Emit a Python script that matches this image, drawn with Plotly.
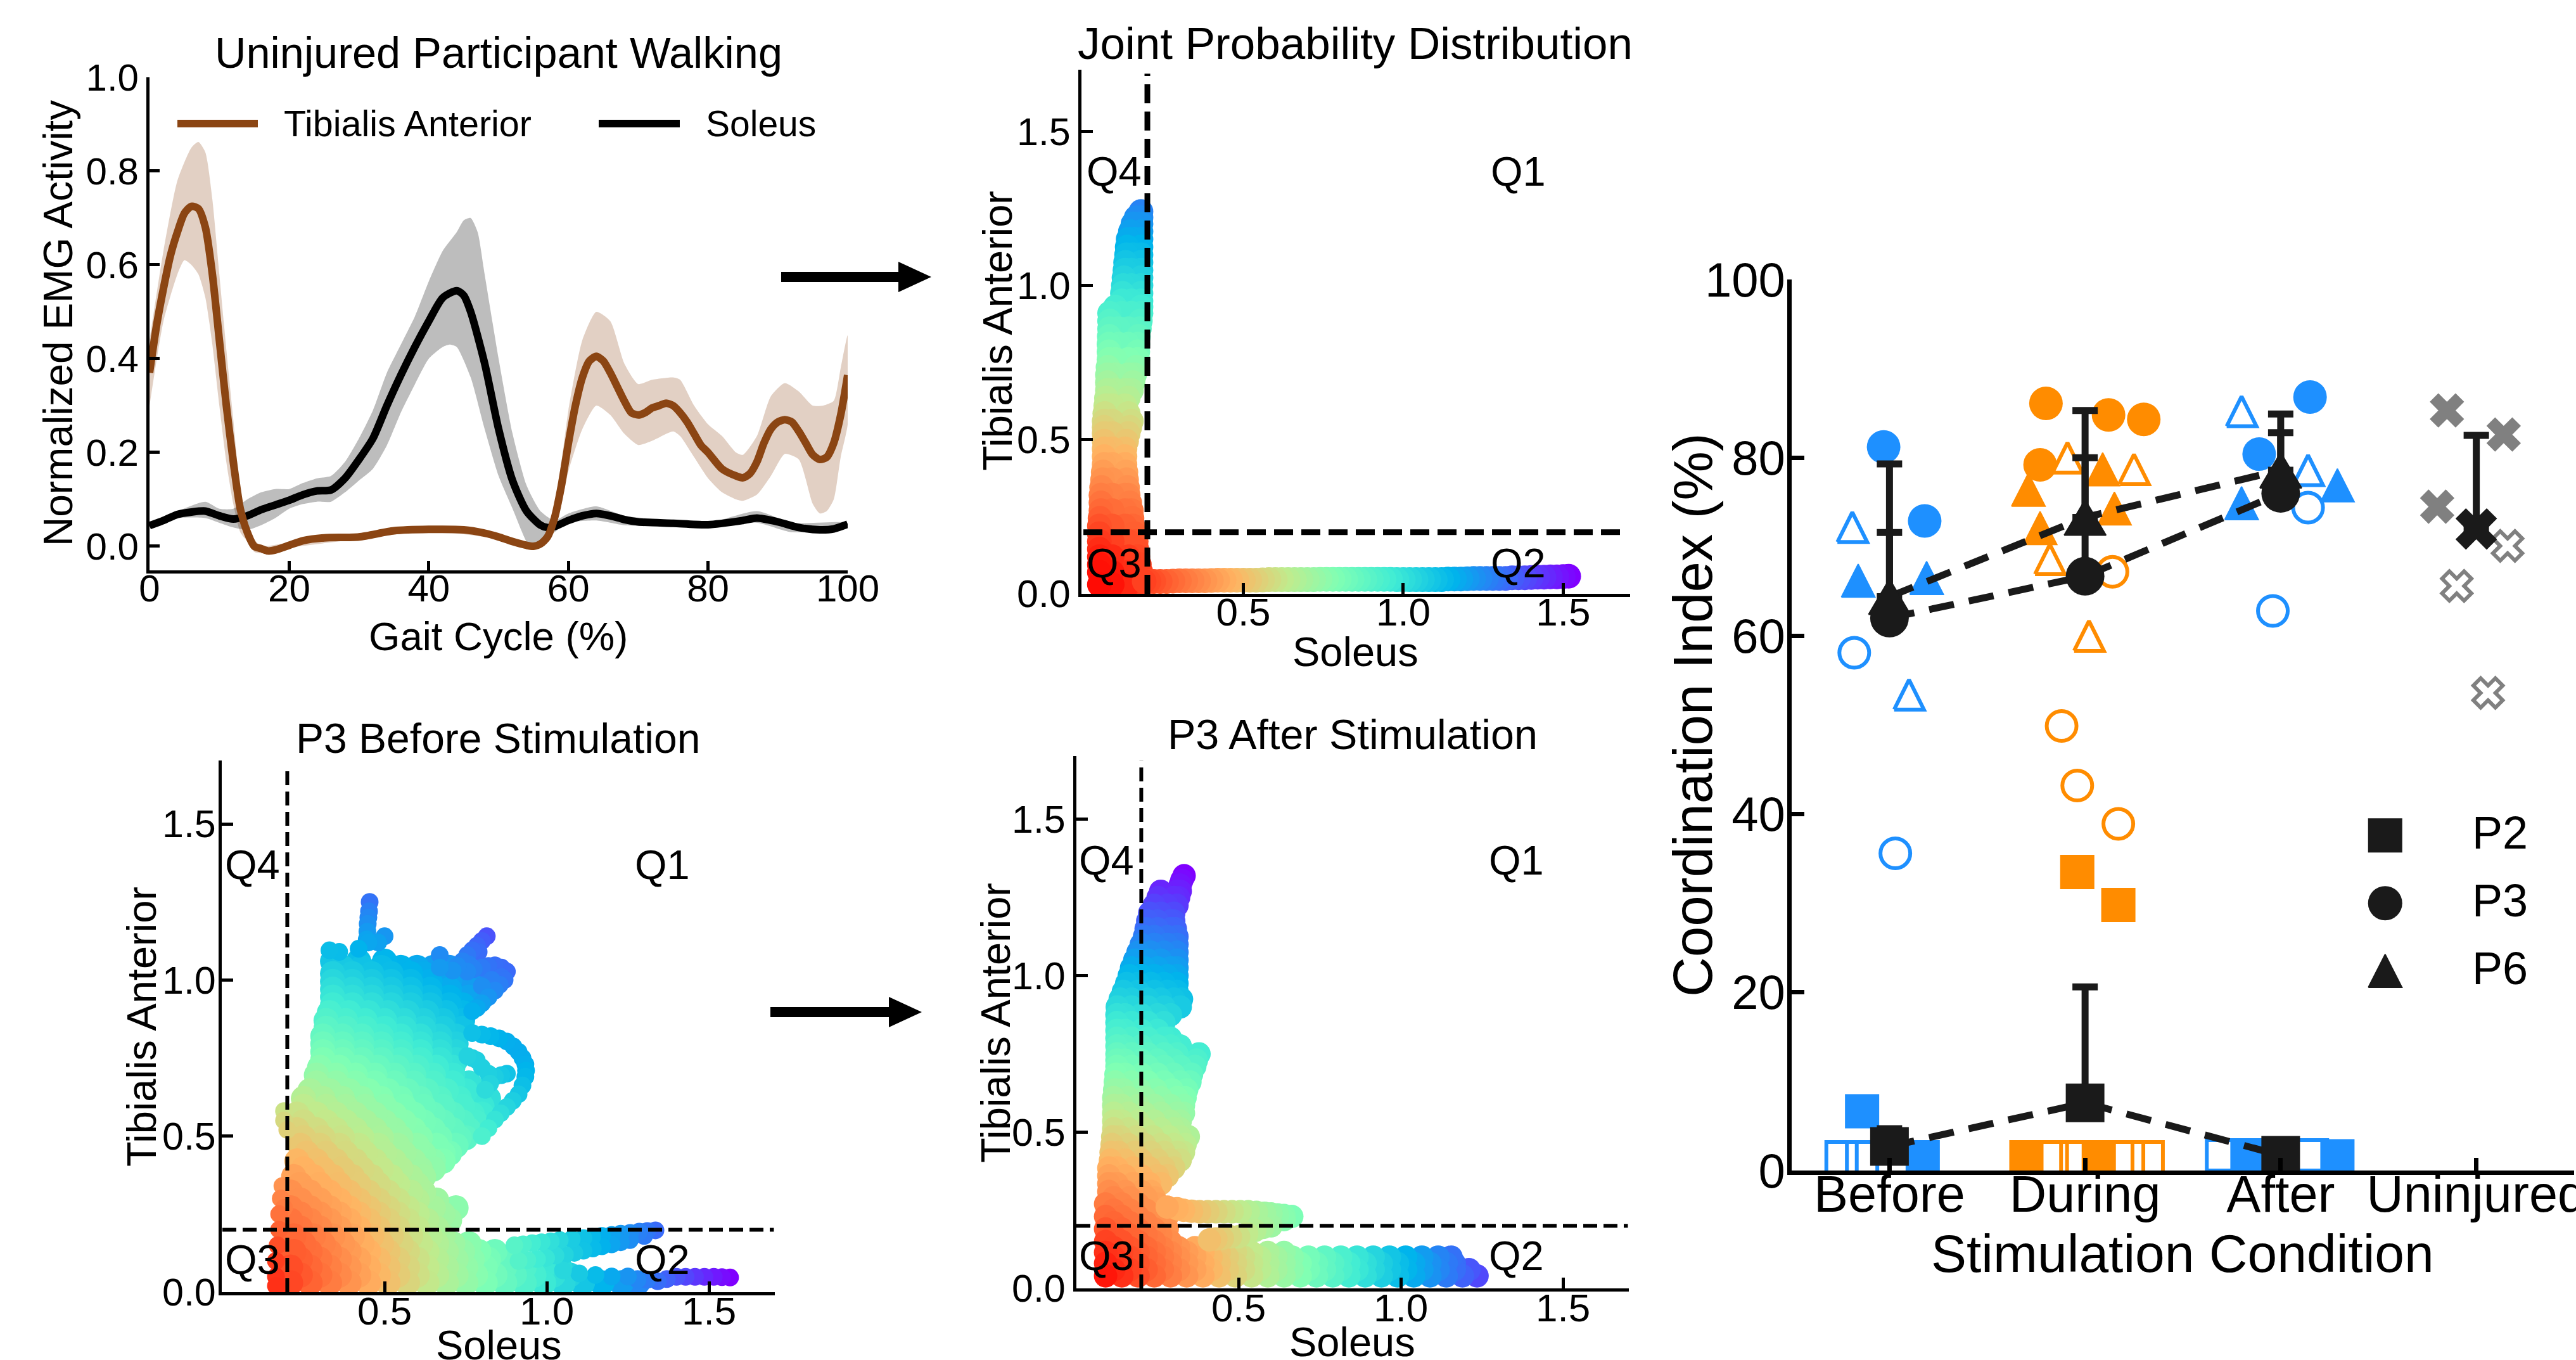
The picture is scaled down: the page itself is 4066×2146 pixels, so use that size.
import numpy as np
import plotly.graph_objects as go

W, H = 4066, 2146
FONT = "Liberation Sans"

# ---------- Panel A: EMG ----------
TA_X = [0,1,2,3,4,5,6,7,8,9,10,11,12,13,14,15,16,17,18,20,22,25,30,35,40,45,48,50,52,54,55,56,57,58,59,60,61,62,63,64,65,66,67,68,69,70,71,72,73,74,75,76,77,78,79,80,82,84,85,86,87,88,89,90,91,92,93,94,95,96,97,98,99,100]
TA_Y = [.37,.47,.55,.62,.67,.71,.725,.72,.68,.58,.44,.30,.18,.08,.03,.0,-.005,-.01,-.008,.002,.012,.018,.02,.033,.036,.035,.028,.02,.01,.002,.0,.005,.02,.06,.13,.22,.30,.36,.395,.405,.395,.37,.34,.31,.285,.28,.285,.295,.30,.305,.30,.285,.265,.24,.215,.20,.165,.15,.146,.155,.18,.22,.25,.265,.27,.265,.245,.22,.195,.185,.19,.22,.28,.365]
TA_UP_X = [0,2,4,6,7,8,9,10,11,12,13,14,15,16,20,30,40,50,55,57,58,59,60,62,64,66,68,70,72,75,76,78,80,82,84,85,87,89,91,93,95,96.5,98,99,100]
TA_UP_Y = [.44,.63,.78,.85,.862,.84,.74,.58,.42,.27,.12,.05,.015,.0,.008,.025,.04,.025,.006,.03,.09,.18,.29,.44,.50,.48,.39,.346,.355,.36,.355,.30,.26,.235,.20,.195,.235,.32,.348,.33,.30,.30,.31,.38,.45]
TA_LO_X = [0,2,4,5,6,7,8,9,10,11,12,13,14,15,16,20,30,40,50,55,57,58,59,60,62,64,66,68,70,72,75,76,78,80,82,84,85,87,89,91,93,95,96,97,98,99,100]
TA_LO_Y = [.30,.48,.58,.61,.60,.58,.53,.43,.30,.18,.09,.03,.01,-.012,-.015,-.003,.015,.032,.015,-.006,.01,.04,.09,.16,.25,.30,.28,.24,.216,.225,.245,.235,.19,.145,.115,.10,.097,.11,.15,.197,.185,.09,.07,.075,.10,.19,.26]
SOL_X = [0,2,4,6,8,10,12,14,16,18,20,22,24,26,28,30,32,34,36,38,40,42,44,45,46,48,50,52,54,56,57,58,60,62,64,66,68,70,75,80,85,87,90,93,96,98,100]
SOL_Y = [.044,.055,.068,.073,.075,.065,.058,.065,.078,.088,.098,.11,.118,.12,.145,.185,.23,.30,.365,.425,.48,.53,.545,.535,.50,.39,.25,.14,.075,.045,.04,.042,.055,.065,.07,.065,.057,.052,.049,.046,.055,.06,.052,.04,.035,.037,.047]
SOL_UP_X = [0,4,8,10,12,14,16,18,20,22,24,26,28,30,32,34,36,38,40,42,44,45,46,47,48,50,52,54,56,58,60,64,68,75,80,87,92,100]
SOL_UP_Y = [.05,.075,.095,.08,.08,.10,.115,.122,.122,.135,.145,.15,.18,.23,.29,.37,.43,.49,.565,.63,.67,.695,.70,.67,.58,.40,.24,.13,.075,.055,.07,.085,.065,.055,.05,.075,.05,.05]
SOL_LO_X = [0,4,8,10,12,14,16,18,20,22,24,26,28,30,32,34,36,38,40,42,43,44,46,48,50,52,54,55,56,58,60,64,68,75,80,87,92,100]
SOL_LO_Y = [.04,.06,.06,.05,.04,.035,.045,.06,.08,.09,.095,.095,.115,.14,.165,.215,.285,.345,.40,.425,.43,.425,.36,.25,.15,.08,.01,-.005,.01,.03,.05,.055,.045,.042,.04,.05,.03,.04]

# ---------- Panel B: joint distribution (Soleus, Tibialis Anterior) ----------
B_ROW_Y = [.03,.07,.12,.17,.22,.27,.32,.37,.42,.47,.52,.56,.61,.66,.71,.76,.81,.86,.91,.95,1.00,1.05,1.10,1.15,1.20,1.24,
           .095,.145,.195,.245,.295,.345,.395,.445,.495,.54,.585,.635,.685,.735,.785,.835,.885,.93,.975,1.025,1.075,1.125,1.175,1.22]
B_ROW_X = [[.05,.09,.14,.18],[.05,.09,.14,.18],[.05,.09,.14,.17],[.05,.09,.14,.165],[.05,.09,.13,.155],[.055,.09,.13,.15],[.055,.09,.13,.14],
           [.06,.09,.135],[.065,.09,.13],[.065,.09,.13],[.065,.09,.14],[.065,.09,.15],[.07,.09,.13],[.075,.10,.13,.15],[.075,.10,.14,.16],
           [.08,.10,.14,.17],[.08,.11,.14,.17],[.082,.11,.14,.175],[.082,.12,.15,.18],[.12,.15,.18],[.125,.15,.18],[.13,.15,.18],[.135,.155,.18],[.14,.16,.18],[.155,.18],[.18],
           [.05,.175],[.05,.167],[.05,.16],[.052,.152],[.055,.145],[.057,.138],[.062,.133],[.065,.13],[.065,.135],[.065,.145],[.067,.14],[.072,.14],
           [.075,.155],[.077,.165],[.08,.17],[.081,.172],[.082,.178],[.10,.18],[.122,.18],[.127,.18],[.132,.18],[.137,.18],[.147,.18],[.165,.18]]
B_ARM_X = [.19,.205,.22,.24,.26,.28,.30,.32,.34,.36,.38,.40,.42,.44,.46,.48,.50,.52,.54,.56,.58,.60,.62,.64,.66,.68,.70,.72,.74,.76,.78,.80,.82,.84,.86,.88,.90,.92,.94,.96,.98,1.00,1.02,1.04,1.06,1.08,1.10,1.12,1.14,1.16,1.18,1.20,1.22,1.24,1.26,1.28,1.30,1.32,1.34,1.36,1.38,1.40,1.42,1.44,1.46,1.48,1.50,1.517]
B_ARM_Y = [.04,.04,.04,.04,.04,.041,.042,.042,.042,.042,.042,.043,.044,.044,.044,.044,.044,.044,.044,.045,.046,.046,.046,.046,.046,.046,.046,.046,.047,.047,.047,.047,.047,.047,.047,.047,.047,.047,.047,.047,.046,.046,.046,.046,.046,.046,.046,.046,.048,.048,.048,.049,.05,.05,.05,.05,.05,.05,.052,.052,.052,.053,.054,.054,.055,.055,.056,.057]

# ---------- Panel C: P3 before ----------
C_ROW_Y = [.03,.08,.13,.18,.23,.27,.32,.37,.42,.47,.52,.57,.62,.67,.72,.77,.82,.87,.92,.97,1.02,1.06,
           .055,.105,.155,.205,.25,.295,.345,.395,.445,.495,.545,.595,.645,.695,.745,.795,.845,.895,.945,.995,1.04]
C_ROW_X = [[.21,.27,.33,.39,.45,.51,.57,.63,.69,.75,.81,.87,.93,.99,1.05,1.11,1.17,1.23,1.28],
           [.21,.27,.33,.39,.45,.51,.57,.63,.69,.75,.81,.87,.93,.99,1.04],
           [.22,.27,.33,.39,.45,.51,.57,.63,.69,.74,.79,.84],
           [.22,.28,.34,.40,.46,.52,.58,.64,.68],
           [.21,.27,.33,.39,.45,.51,.57,.63,.70],
           [.21,.27,.33,.39,.45,.51,.57,.65,.72],
           [.21,.27,.33,.39,.45,.51,.58,.62],
           [.22,.28,.34,.40,.46,.52,.58,.62],
           [.23,.29,.35,.41,.47,.53,.59,.65,.68],
           [.24,.30,.36,.42,.48,.54,.60,.66,.72],
           [.23,.29,.35,.41,.47,.53,.59,.65,.71,.76],
           [.23,.29,.35,.41,.47,.53,.59,.65,.71,.77,.80],
           [.25,.31,.37,.43,.49,.55,.61,.67,.73,.79,.82],
           [.29,.35,.41,.47,.53,.59,.65,.71,.76],
           [.30,.36,.42,.48,.54,.60,.66,.71],
           [.31,.37,.43,.49,.55,.61,.67,.72],
           [.31,.37,.43,.49,.55,.61,.67,.72],
           [.32,.38,.44,.50,.56,.62,.68,.74],
           [.34,.40,.46,.52,.58,.64,.70,.74],
           [.34,.40,.46,.52,.58,.64,.70,.76,.82],
           [.34,.40,.46,.52,.58,.62,.68],
           [.34,.42,.50],
           [.24,.30,.36,.42,.48,.54,.60,.66,.72,.78,.84,.90,.96,1.02,1.07],
           [.24,.30,.36,.42,.48,.54,.60,.66,.72,.77,.82,.87],
           [.25,.31,.37,.43,.49,.55,.61,.66,.71,.76],
           [.24,.30,.36,.42,.48,.54,.60,.66],
           [.24,.30,.36,.42,.48,.54,.60,.68],
           [.24,.30,.36,.42,.48,.54,.60,.66],
           [.24,.30,.36,.42,.48,.54,.60],
           [.25,.31,.37,.43,.49,.55,.61,.65],
           [.26,.32,.38,.44,.50,.56,.62,.68,.70],
           [.25,.31,.37,.43,.49,.55,.61,.67,.73,.75],
           [.25,.32,.38,.44,.50,.56,.62,.68,.74,.78],
           [.25,.32,.38,.44,.50,.56,.62,.68,.74,.80],
           [.27,.33,.39,.45,.51,.57,.63,.69,.75,.80],
           [.29,.35,.41,.47,.53,.59,.65,.71],
           [.31,.37,.43,.49,.55,.61,.67,.72],
           [.31,.37,.43,.49,.55,.61,.67,.72],
           [.32,.38,.44,.50,.56,.62,.68,.74],
           [.33,.39,.45,.51,.57,.63,.69,.74],
           [.34,.40,.46,.52,.58,.64,.70,.76,.80],
           [.34,.40,.46,.52,.58,.64,.70,.76,.81],
           [.37,.43,.49,.55,.60,.65,.70]]
C_ARM_X = [.454,.45,.447,.80,.77,.74,.71,.877,.84,.80,.755,.87,.84,.80,.77,.67,.67,.50,.48,.45,.42,.33,.36,
           .77,.827,.877,.913,.934,.934,.913,.877,.84,.80,.877,.84,.81,.784,.755,.82,
           1.335,1.285,1.228,1.17,1.113,1.04,.984,.927,1.256,1.2,1.142,1.085,1.027,.97,.913,
           1.565,1.515,1.457,1.40,1.342,.19,.18,.19,.175,
           .452,.448,.445,.785,.755,.725,.815,.79,.76,.86,.82,.775,.855,.82,.785,.86,.83,.80,
           .80,.853,.897,.925,.936,.925,.895,.858,.82,.86,.825,.77,.80,
           1.31,1.257,1.2,1.14,1.077,1.012,.955,.90,1.3,1.228,1.17,1.113,1.056,.998,.94,
           1.54,1.486,1.428,1.37,1.31,1.28,1.25,1.2,1.15,1.1,1.05,.19,.20,.185,.175,.175,.17,.165,.165,.165]
C_ARM_Y = [1.25,1.2,1.155,1.125,1.095,1.06,1.03,1.027,1.047,1.04,1.027,1.0,.966,.925,.90,1.08,1.04,1.14,1.12,1.12,1.10,1.095,1.09,
           .83,.82,.803,.77,.73,.69,.634,.593,.553,.50,.70,.69,.648,.743,.756,.70,
           .198,.194,.187,.18,.173,.167,.16,.153,.167,.153,.14,.126,.117,.106,.10,
           .047,.049,.049,.049,.035,.58,.30,.27,.02,
           1.22,1.18,1.13,1.11,1.08,1.045,1.14,1.09,1.05,1.04,1.045,1.035,.985,.945,.91,1.01,1.0,.98,
           .825,.813,.787,.75,.71,.662,.613,.573,.525,.695,.668,.75,.72,
           .196,.19,.183,.177,.17,.163,.157,.15,.18,.16,.147,.133,.12,.11,.103,
           .048,.049,.049,.042,.04,.04,.05,.05,.055,.06,.07,.55,.52,.34,.25,.20,.15,.10,.05,.02]

# ---------- Panel D: P3 after ----------
D_ROW_Y = [.04,.08,.115,.15,.19,.23,.27,.31,.36,.41,.46,.51,.56,.61,.66,.71,.75,.80,.85,.90,.95,1.00,1.05,1.10,1.15,1.20,1.25,1.29,1.32,
           .06,.10,.13,.17,.21,.25,.29,.335,.385,.435,.485,.535,.585,.635,.685,.73,.775,.825,.875,.925,.975,1.025,1.075,1.125,1.175,1.225,1.27,1.305]
D_ROW_X = [[.09,.14,.19,.24,.29,.34,.39,.44,.49,.54,.59,.64,.69,.74,.79,.84,.89,.94,.99,1.04,1.09,1.14,1.19,1.235],
           [.09,.14,.19,.24,.29,.34,.39,.44,.49,.54,.59,.64,.69,.74,.79,.84,.89,.94,.99,1.04,1.09,1.14,1.165],
           [.09,.14,.19,.24,.29,.34,.39,.44,.49,.54,.59,.64],
           [.09,.14,.19,.24,.29],
           [.09,.14,.19,.24,.28],
           [.09,.14,.19,.24,.28],
           [.09,.14,.19,.25],
           [.10,.15,.20,.23],
           [.10,.15,.20,.25,.28],
           [.105,.15,.20,.25,.29,.32],
           [.11,.16,.21,.26,.30,.335],
           [.115,.16,.21,.26,.30,.32],
           [.115,.16,.21,.26,.31,.33],
           [.115,.16,.21,.26,.31,.335],
           [.12,.17,.22,.27,.32,.35],
           [.125,.17,.22,.27,.32,.365],
           [.125,.17,.22,.27,.31,.378],
           [.125,.17,.22,.27,.29],
           [.125,.17,.22,.27],
           [.126,.17,.22,.27,.32],
           [.145,.19,.24,.28,.31],
           [.163,.20,.24,.28,.31],
           [.18,.22,.26,.31],
           [.20,.24,.28,.31],
           [.215,.25,.29,.305],
           [.226,.26,.30],
           [.252,.30,.315],
           [.32],
           [.332],
           [.115,.165,.215,.265,.315,.365,.415,.465,.515,.565,.615,.665,.715,.765,.815,.865,.915,.965,1.015,1.065,1.115,1.165,1.21],
           [.115,.165,.215,.265,.315,.365,.415,.465,.515,.565,.615,.665,.715,.765,.815,.865,.915,.965,1.015,1.065,1.115,1.155],
           [.115,.165,.215,.265,.315,.365],
           [.115,.165,.215,.26],
           [.115,.165,.215,.26],
           [.115,.165,.215,.26],
           [.115,.165,.215,.24],
           [.10,.125,.175,.225,.26],
           [.10,.125,.175,.225,.27,.30],
           [.107,.13,.18,.23,.27,.31,.33],
           [.112,.135,.185,.235,.285,.32,.345],
           [.115,.14,.19,.24,.29,.32],
           [.115,.14,.19,.24,.29,.33],
           [.118,.145,.195,.245,.295,.34],
           [.122,.15,.20,.25,.30,.355],
           [.125,.15,.20,.25,.30,.37],
           [.125,.15,.20,.25,.29,.32],
           [.125,.15,.20,.25],
           [.125,.15,.20,.25,.29],
           [.135,.17,.22,.26,.30,.324],
           [.155,.19,.23,.27,.31],
           [.17,.21,.25,.29,.31],
           [.19,.23,.27,.31],
           [.21,.24,.28,.31],
           [.22,.25,.29,.30],
           [.24,.28,.31],
           [.26,.31,.32],
           [.325]]
D_ARM_X = [.28,.33,.38,.43,.48,.53,.58,.62,.664,.60,.55,.50,.45,.41,.31,.355,.405,.455,.505,.555,.60,.64,.64,.575,.525,.475,.43]
D_ARM_Y = [.26,.25,.245,.245,.245,.245,.24,.235,.23,.20,.185,.165,.16,.155,.255,.247,.245,.245,.245,.243,.238,.233,.22,.195,.175,.165,.158]

# ---------- Panel E: coordination index ----------
CATEGORIES = ["Before", "During", "After", "Uninjured"]
P2_MEAN = [2.7, 7.6, 1.7]
P3_MEAN = [62.0, 66.7, 76.0]
P6_MEAN = [64.4, 73.3, 78.6]
P2_ERR = [2.0, 13.0, 0.5]
P3_ERR = [17.3, 18.6, 8.9]
P6_ERR = [7.2, 6.7, 4.2]
UNINJ_MEAN = [72.0]
UNINJ_ERR = [10.5]
MEAN_X = [0, 1, 2]

BLUE_SQ_X = [-.14, .17, 1.83, 2.29]
BLUE_SQ_Y = [6.65, 1.5, 1.7, 1.6]
BLUE_SQO_X = [-.245, -.14, 1.70, 2.16]
BLUE_SQO_Y = [1.5, 1.5, 1.7, 1.7]
BLUE_CI_X = [-.03, .18, 2.15, 1.89]
BLUE_CI_Y = [81.2, 72.9, 86.8, 80.4]
BLUE_CIO_X = [-.18, .03, 2.14, 1.96]
BLUE_CIO_Y = [58.1, 35.6, 74.4, 62.8]
BLUE_TR_X = [-.16, .19, 2.29, 1.80]
BLUE_TR_Y = [66.2, 66.5, 76.9, 74.9]
BLUE_TRO_X = [-.19, .10, 1.80, 2.14]
BLUE_TRO_Y = [72.2, 53.4, 85.2, 78.6]
ORANGE_SQ_X = [.96, 1.17, .70, 1.07]
ORANGE_SQ_Y = [33.5, 29.8, 1.5, 1.5]
ORANGE_SQO_X = [.83, .955, 1.22, 1.32]
ORANGE_SQO_Y = [1.5, 1.5, 1.5, 1.5]
ORANGE_CI_X = [.80, 1.12, 1.30, .77]
ORANGE_CI_Y = [86.1, 84.8, 84.3, 79.2]
ORANGE_CIO_X = [1.14, .88, .96, 1.17]
ORANGE_CIO_Y = [67.2, 49.9, 43.2, 38.9]
ORANGE_TR_X = [.71, 1.09, 1.15, .77]
ORANGE_TR_Y = [76.4, 78.7, 74.3, 72.1]
ORANGE_TRO_X = [.91, 1.25, .82, 1.02]
ORANGE_TRO_Y = [80.0, 78.7, 68.6, 60.0]
GRAY_X_X = [2.85, 3.14, 2.80]
GRAY_X_Y = [85.3, 82.6, 74.5]
GRAY_XO_X = [3.16, 2.90, 3.06]
GRAY_XO_Y = [70.1, 65.6, 53.6]
LEGEND_NAMES = ["P2", "P3", "P6"]
LEGEND_X = [2.534, 2.534, 2.534]
LEGEND_Y = [37.6, 30.0, 22.4]

BLUE, ORANGE, GRAY, INK, BROWN = "#1E90FF", "#FF8C00", "#808080", "#1a1a1a", "#8B4513"
RAINBOW_R = [[0, "#ff0000"], [.07, "#ff1408"], [.17, "#ff6232"], [.30, "#ffb462"], [.41, "#bfec8e"], [.51, "#80ffb4"],
             [.625, "#40ecd4"], [.75, "#00b4ec"], [.875, "#4062fa"], [1, "#8000ff"]]

def px_x(v): return v / W
def px_y(v): return 1 - v / H

# (pixel box, x range, y range)
PANELS = {
    "": ((236, 1338, 122, 900), [0, 100], [-.0514, 1.0]),
    "2": ((1707, 2573, 110, 937), [-.006, 1.709], [0, 1.70]),
    "3": ((350, 1223, 1200, 2039), [-.002, 1.703], [0, 1.703]),
    "4": ((1699, 2571, 1193, 2033), [0, 1.703], [0, 1.7025]),
    "5": ((2828, 4063, 441, 1847), [-.5, 3.5], [0, 100]),
}

fig = go.Figure()

def band(xu, yu, xl, yl, color, axis=""):
    fig.add_trace(go.Scatter(x=list(xu) + list(xl)[::-1], y=list(yu) + list(yl)[::-1], mode="lines", fill="toself",
                             fillcolor=color, line=dict(width=0, shape="spline", smoothing=.6), hoverinfo="skip", showlegend=False))

band(TA_UP_X, TA_UP_Y, TA_LO_X, TA_LO_Y, "rgba(139,69,19,.25)")
band(SOL_UP_X, SOL_UP_Y, SOL_LO_X, SOL_LO_Y, "rgba(0,0,0,.26)")
fig.add_trace(go.Scatter(x=SOL_X, y=SOL_Y, mode="lines", name="Soleus", showlegend=False,
                         line=dict(color="black", width=12, shape="spline", smoothing=.7)))
fig.add_trace(go.Scatter(x=TA_X, y=TA_Y, mode="lines", name="Tibialis Anterior", showlegend=False,
                         line=dict(color=BROWN, width=12, shape="spline", smoothing=.7)))

def blob(axis, row_y, row_x, arm_x, arm_y, fill_size, arm_size, dash_w, dash):
    xs = np.array([x for r, y in zip(row_x, row_y) for x in r], dtype=float)
    ys = np.array([y for r, y in zip(row_x, row_y) for _ in r], dtype=float)
    ax, ay = np.array(arm_x, dtype=float), np.array(arm_y, dtype=float)
    cmax = float(max(np.hypot(xs, ys).max(), np.hypot(ax, ay).max()))
    for px_, py_, size in ((xs, ys, fill_size), (ax, ay, arm_size)):
        d = np.hypot(px_, py_)
        order = np.argsort(-d)
        fig.add_trace(go.Scatter(x=px_[order], y=py_[order], mode="markers", xaxis="x" + axis, yaxis="y" + axis,
                                 showlegend=False, hoverinfo="skip",
                                 marker=dict(size=size, color=d[order], colorscale=RAINBOW_R, cmin=0, cmax=cmax,
                                             showscale=False, line=dict(width=0))))
    for x, y in (([.2, .2], [0, 1.687]), ([0, 1.7], [.2, .2])):
        fig.add_trace(go.Scatter(x=x, y=y, mode="lines", xaxis="x" + axis, yaxis="y" + axis, showlegend=False,
                                 hoverinfo="skip", line=dict(color="black", width=dash_w, dash=dash)))

blob("2", B_ROW_Y, B_ROW_X, B_ARM_X, B_ARM_Y, 39, 39, 9, "30px,13px")
blob("3", C_ROW_Y, C_ROW_X, C_ARM_X, C_ARM_Y, 40, 28, 6, "22px,10px")
blob("4", D_ROW_Y, D_ROW_X, D_ARM_X, D_ARM_Y, 37, 37, 6, "22px,10px")

# ---- Panel E ----
def pts(x, y, sym, size, color, lc=None, lw=0, name=None):
    fig.add_trace(go.Scatter(x=x, y=y, mode="markers", xaxis="x5", yaxis="y5", showlegend=False, name=name,
                             marker=dict(symbol=sym, size=size, color=color, line=dict(color=lc or color, width=lw))))

E_PX_X = 308.75        # pixels per category
E_PX_Y = 14.06         # pixels per unit
def tri(x, y, w_px, h_px, fill, line, lw):
    w, h = w_px / E_PX_X, h_px / E_PX_Y
    X, Y = [], []
    for a, b in zip(x, y):
        X += [a - w / 2, a + w / 2, a, a - w / 2, None]
        Y += [b - h / 2, b - h / 2, b + h / 2, b - h / 2, None]
    fig.add_trace(go.Scatter(x=X, y=Y, mode="lines", fill="toself", fillcolor=fill, xaxis="x5", yaxis="y5",
                             showlegend=False, hoverinfo="skip", line=dict(color=line, width=lw)))

for c, sq, sqo, ci, cio, tr, tro in (
    (BLUE, (BLUE_SQ_X, BLUE_SQ_Y), (BLUE_SQO_X, BLUE_SQO_Y), (BLUE_CI_X, BLUE_CI_Y), (BLUE_CIO_X, BLUE_CIO_Y), (BLUE_TR_X, BLUE_TR_Y), (BLUE_TRO_X, BLUE_TRO_Y)),
    (ORANGE, (ORANGE_SQ_X, ORANGE_SQ_Y), (ORANGE_SQO_X, ORANGE_SQO_Y), (ORANGE_CI_X, ORANGE_CI_Y), (ORANGE_CIO_X, ORANGE_CIO_Y), (ORANGE_TR_X, ORANGE_TR_Y), (ORANGE_TRO_X, ORANGE_TRO_Y))):
    pts(sqo[0], sqo[1], "square", 48, "rgba(255,255,255,0)", c, 6)
    pts(sq[0], sq[1], "square", 54, c)
    pts(ci[0], ci[1], "circle", 53, c)
    tri(tr[0], tr[1], 53, 52, c, c, 2)
    pts(cio[0], cio[1], "circle", 47, "white", c, 6)
    tri(tro[0], tro[1], 47, 47, "white", c, 6)
pts(GRAY_X_X, GRAY_X_Y, "x", 48, GRAY)
pts(GRAY_XO_X, GRAY_XO_Y, "x", 41, "white", GRAY, 6)

DASH = dict(color=INK, width=11, dash="40px,24px")
ERR = dict(type="data", symmetric=False, thickness=11, width=20, color=INK)
for mean, err, sym in ((P2_MEAN, P2_ERR, "square"), (P3_MEAN, P3_ERR, "circle"), (P6_MEAN, P6_ERR, None)):
    fig.add_trace(go.Scatter(x=MEAN_X, y=mean, mode="lines", xaxis="x5", yaxis="y5", showlegend=False, line=DASH,
                             error_y=dict(array=err, arrayminus=[0, 0, 0], **ERR)))
    if sym:
        pts(MEAN_X, mean, sym, 61, INK)
    else:
        tri(MEAN_X, mean, 66, 56, INK, INK, 2)
fig.add_trace(go.Scatter(x=[3], y=UNINJ_MEAN, mode="markers", xaxis="x5", yaxis="y5", showlegend=False,
                         marker=dict(symbol="x", size=58, color=INK),
                         error_y=dict(array=UNINJ_ERR, arrayminus=[0], **ERR)))
pts(LEGEND_X[:1], LEGEND_Y[:1], "square", 54, INK)
pts(LEGEND_X[1:2], LEGEND_Y[1:2], "circle", 54, INK)
tri(LEGEND_X[2:], LEGEND_Y[2:], 53, 52, INK, INK, 2)

# ---- axes ----
def axis_common(font, lw, tlen, standoff=0):
    return dict(showline=True, linecolor="black", linewidth=lw, showgrid=False, zeroline=False, ticks="inside",
                ticklen=tlen, tickwidth=lw, tickcolor="black", tickfont=dict(family=FONT, size=font, color="black"),
                mirror=False, tickangle=0, automargin=False, ticklabeloverflow="allow", ticklabelstandoff=standoff)

layout = dict(width=W, height=H, autosize=False, margin=dict(l=0, r=0, t=0, b=0, pad=0), paper_bgcolor="white", plot_bgcolor="rgba(0,0,0,0)",
              showlegend=False, font=dict(family=FONT, color="black"), template="none")
X_STANDOFF = {"2": -29, "3": -28, "4": -27}
Y_STANDOFF = {"2": 0, "3": -8, "4": 0}
for key, (box, xr, yr) in PANELS.items():
    l, r, t, b = box
    x_anchor, y_anchor = "y" + key, "x" + key
    if key == "":
        xa = dict(tickvals=[0, 20, 40, 60, 80, 100], **axis_common(60, 5, 15, -28))
        ya = dict(tickvals=[0, .2, .4, .6, .8, 1.0], tickformat=".1f", **axis_common(60, 5, 16))
    elif key == "5":
        xa = dict(tickvals=[0, 1, 2, 3], ticktext=CATEGORIES, **axis_common(81, 7, 20, -39))
        ya = dict(tickvals=[0, 20, 40, 60, 80, 100], **axis_common(76, 7, 20, -12))
    else:
        xa = dict(tickvals=[.5, 1.0, 1.5], tickformat=".1f", **axis_common(62, 5, 17, X_STANDOFF[key]))
        ya = dict(tickvals=[0, .5, 1.0, 1.5], tickformat=".1f", **axis_common(61, 5, 18, Y_STANDOFF[key]))
    layout["xaxis" + key] = dict(domain=[px_x(l), px_x(r)], range=xr, anchor=x_anchor, **xa)
    layout["yaxis" + key] = dict(domain=[px_y(b), px_y(t)], range=yr, anchor=y_anchor, **ya)

# ---- text ----
ann = []
def text(s, x, y, size, angle=0, anchor="center"):
    ann.append(dict(text=s, x=px_x(x), y=px_y(y), xref="paper", yref="paper", showarrow=False, xanchor=anchor, yanchor="middle",
                    textangle=angle, font=dict(family=FONT, size=size, color="black")))

text("Uninjured Participant Walking", 787, 84, 68.5)
text("Normalized EMG Activity", 92, 510, 64, -90)
text("Gait Cycle (%)", 786, 1004, 63.5)
text("Tibialis Anterior", 446, 195, 57.5, anchor="left")
text("Soleus", 1112, 195, 57, anchor="left")
text("Joint Probability Distribution", 2139, 69, 71)
text("Tibialis Anterior", 1575, 522, 65, -90)
text("Soleus", 2139, 1028, 65)
text("P3 Before Stimulation", 786, 1165, 66)
text("Tibialis Anterior", 223, 1620, 65, -90)
text("Soleus", 787, 2122, 65)
text("P3 After Stimulation", 2135, 1159, 66.5)
text("Tibialis Anterior", 1571, 1614, 65, -90)
text("Soleus", 2134, 2117, 65)
text("Coordination Index (%)", 2671, 1128, 87, -90)
text("Stimulation Condition", 3445, 1978, 84)
for n, v in zip(LEGEND_NAMES, LEGEND_Y):
    text(n, 3900, 1847 - v * E_PX_Y - 4, 72, anchor="left")

QUADRANTS = {"2": (.095, 1.36, 1.37, .10), "3": (.093, 1.357, 1.37, .105), "4": (.092, 1.357, 1.37, .105)}
for key, (x1, x2, y1, y2) in QUADRANTS.items():
    for s, x, y in (("Q4", x1, y1), ("Q1", x2, y1), ("Q3", x1, y2), ("Q2", x2, y2)):
        ann.append(dict(text=s, x=x, y=y, xref="x" + key, yref="y" + key, showarrow=False,
                        font=dict(family=FONT, size=65, color="black")))
layout["annotations"] = ann

# ---- legend keys and arrows ----
shapes = []
for x0, x1, c in ((280, 407, BROWN), (945, 1073, "black")):
    shapes.append(dict(type="line", xref="paper", yref="paper", x0=px_x(x0), x1=px_x(x1), y0=px_y(195), y1=px_y(195),
                       line=dict(color=c, width=12)))
for x0, x1, y in ((1233, 1470, 437), (1216, 1455, 1597)):
    pth = [(x0, y - 8), (x1 - 52, y - 8), (x1 - 52, y - 24), (x1, y), (x1 - 52, y + 24), (x1 - 52, y + 8), (x0, y + 8)]
    d = "M " + " L ".join(f"{px_x(a):.5f} {px_y(b):.5f}" for a, b in pth) + " Z"
    shapes.append(dict(type="path", xref="paper", yref="paper", path=d, fillcolor="black", line=dict(width=0)))
layout["shapes"] = shapes

fig.update_layout(**layout)
fig.write_html("out.html", config={"displayModeBar": False},
               post_script="document.body.style.margin='0';document.body.style.overflow='hidden';")
